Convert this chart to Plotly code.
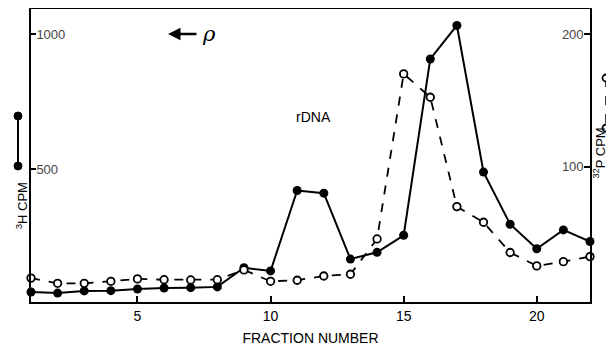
import plotly.graph_objects as go

fractions = list(range(1, 23))
h3_cpm = [46, 42, 50, 51, 57, 61, 62, 65, 136, 124, 422, 412, 168, 193, 256, 909, 1033, 490, 297, 206, 276, 233]
p32_cpm = [16.0, 12.1, 12.1, 13.6, 15.4, 14.8, 14.6, 14.8, 22.2, 13.6, 14.4, 17.6, 18.9, 45.5, 169.9, 152.3, 69.9, 58.1, 35.3, 25.2, 28.4, 32.2]
x_ticks = [5, 10, 15, 20]
h3_ticks = [500, 1000]
p32_ticks = [100, 200]

FONT = "Liberation Sans, Arial, sans-serif"

fig = go.Figure()
fig.add_trace(go.Scatter(
    x=fractions, y=p32_cpm, yaxis="y2", mode="lines+markers",
    line=dict(color="black", width=1.8, dash="dash"),
    marker=dict(symbol="circle", size=7.5, color="white", line=dict(color="black", width=1.8)),
    showlegend=False, cliponaxis=False))
fig.add_trace(go.Scatter(
    x=fractions, y=h3_cpm, mode="lines+markers",
    line=dict(color="black", width=2),
    marker=dict(symbol="circle", size=9, color="black"),
    showlegend=False, cliponaxis=False))

axis_common = dict(showgrid=False, zeroline=False, showline=True, linecolor="black",
                   linewidth=2, ticks="inside", tickcolor="black", tickwidth=1.5,
                   automargin=False)

# page body has an 8px margin, so the figure is sized to fit the window
fig.update_layout(
    width=606, height=340,
    margin=dict(l=23, r=24, t=1, b=46),
    paper_bgcolor="white", plot_bgcolor="white",
    font=dict(family=FONT, color="black", size=14),
    xaxis=dict(range=[1, 22], tickvals=x_ticks, ticklen=6, mirror=True,
               tickfont=dict(size=14), title=dict(text="FRACTION NUMBER", font=dict(size=14), standoff=10),
               **axis_common),
    yaxis=dict(range=[9, 1094], tickvals=h3_ticks, ticklen=5, ticklabelposition="inside",
               tickfont=dict(size=13), **axis_common),
    yaxis2=dict(range=[-2, 218.8], tickvals=p32_ticks, ticklen=6, ticklabelposition="inside",
                overlaying="y", side="right", tickfont=dict(size=13), **axis_common),
)

annotations = [
    dict(text="rDNA", x=0.505, y=0.63, xanchor="center", yanchor="middle",
         font=dict(size=14)),
    dict(text="<sup>3</sup>H CPM", x=-0.0161, y=0.3276, xanchor="center", yanchor="middle",
         textangle=-90, font=dict(size=13)),
    dict(text="<sup>32</sup>P CPM", x=1.0165, y=0.508, xanchor="center", yanchor="middle",
         textangle=-90, font=dict(size=13)),
    dict(text="<i>ρ</i>", x=0.3184, y=0.916, xanchor="center", yanchor="middle",
         font=dict(size=21, family="DejaVu Serif")),
]
for a in annotations:
    a.update(xref="paper", yref="paper", showarrow=False)
annotations.append(dict(text=" ", x=0.2451, y=0.9147, xref="paper", yref="paper", showarrow=True,
                        ax=32, ay=0, arrowhead=2, arrowsize=1, arrowwidth=2.5, arrowcolor="black"))
fig.update_layout(annotations=annotations)

# legend keys beside the axis titles
shapes = []
lx, ly0, ly1 = -0.02326, 0.6348, 0.4642
shapes.append(dict(type="line", xref="paper", yref="paper", x0=lx, x1=lx, y0=ly0, y1=ly1,
                   line=dict(color="black", width=2)))
for yy in (ly0, ly1):
    shapes.append(dict(type="circle", xref="paper", yref="paper", xsizemode="pixel", ysizemode="pixel",
                       xanchor=lx, yanchor=yy, x0=-4, x1=4, y0=-4, y1=4,
                       fillcolor="black", line=dict(color="black", width=1)))
rx, ry0, ry1 = 1.0286, 0.7645, 0.5939
shapes.append(dict(type="line", xref="paper", yref="paper", x0=rx, x1=rx, y0=ry0, y1=ry1,
                   line=dict(color="black", width=1.5, dash="dash")))
for yy in (ry0, ry1):
    shapes.append(dict(type="circle", xref="paper", yref="paper", xsizemode="pixel", ysizemode="pixel",
                       xanchor=rx, yanchor=yy, x0=-3.5, x1=3.5, y0=-3.5, y1=3.5,
                       fillcolor="white", line=dict(color="black", width=1.8)))
fig.update_layout(shapes=shapes)

fig.write_html("out.html")
